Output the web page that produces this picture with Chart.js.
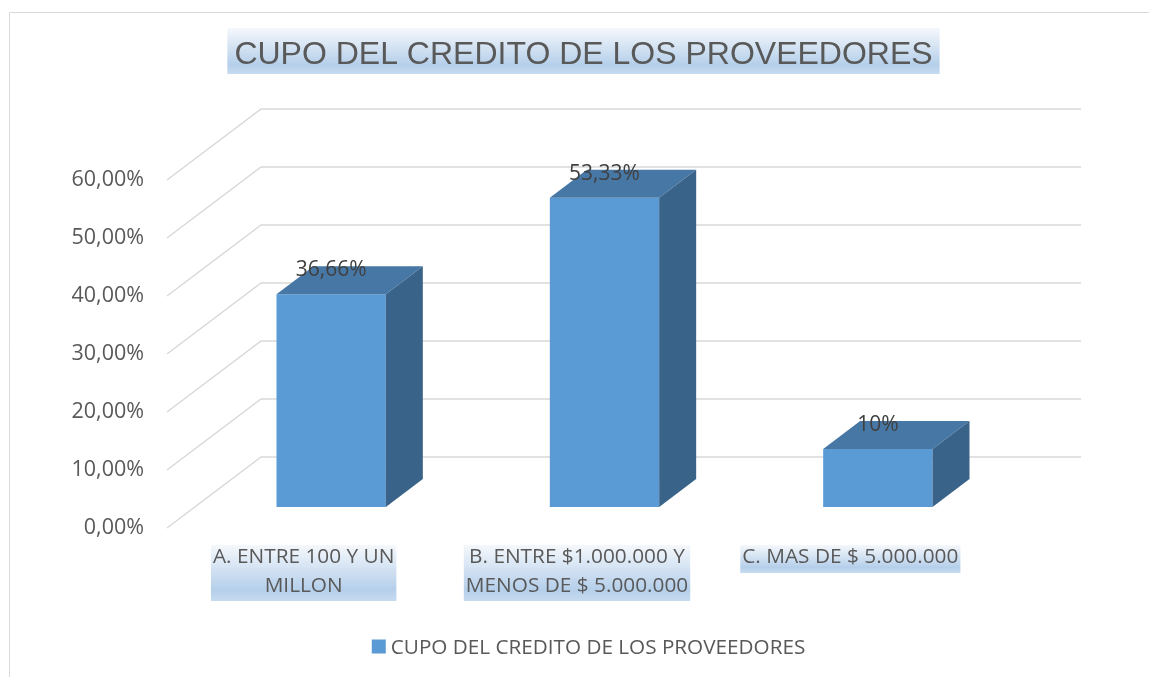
<!DOCTYPE html>
<html><head><meta charset="utf-8">
<script src="https://cdn.jsdelivr.net/npm/chart.js@4.4.1/dist/chart.umd.min.js"></script>
<style>html,body{margin:0;padding:0;background:#fff;} canvas{display:block;}</style>
</head><body>
<canvas id="c" width="1149" height="677"></canvas>
<script>
const chartTitle = "CUPO DEL CREDITO DE LOS PROVEEDORES";
const categories = [["A. ENTRE 100 Y UN", "MILLON"], ["B. ENTRE $1.000.000 Y", "MENOS DE $ 5.000.000"], ["C. MAS DE $ 5.000.000"]];
const seriesName = "CUPO DEL CREDITO DE LOS PROVEEDORES";
const values = [36.66, 53.33, 10];
const yTicks = [0, 10, 20, 30, 40, 50, 60];

const FONT = "'Open Sans', sans-serif";
const BAR_SHIFT = {x: 27.5, y: -21};
const DEPTH = {x: 37, y: -28};
const WALL = {x: 94, y: -71};
const FRONT = '#5b9bd5', TOPC = '#4677a5', SIDE = '#3a6389';

function fmtTick(v) { return v.toFixed(2).replace('.', ',') + '%'; }
function fmtLabel(v) { return Number.isInteger(v) ? v + '%' : v.toFixed(2).replace('.', ',') + '%'; }

function boxGradient(ctx, y0, y1) {
  const g = ctx.createLinearGradient(0, y0, 0, y1);
  g.addColorStop(0, '#f5f8fc');
  g.addColorStop(0.8, '#b5cfea');
  g.addColorStop(1, '#c6dbf0');
  return g;
}

const deco = {
  id: 'deco',
  beforeDraw(chart) {
    const ctx = chart.ctx;
    ctx.save();
    ctx.strokeStyle = '#d9d9d9'; ctx.lineWidth = 1;
    ctx.beginPath(); ctx.moveTo(9.5, 677); ctx.lineTo(9.5, 12.5); ctx.lineTo(1149, 12.5); ctx.stroke();
    // title
    ctx.font = "32px 'Liberation Sans', Arial, sans-serif";
    const tw = ctx.measureText(chartTitle).width;
    const cx = 583.5;
    ctx.fillStyle = boxGradient(ctx, 28, 74);
    ctx.fillRect(cx - tw / 2 - 7, 28, tw + 14, 46);
    ctx.fillStyle = '#595959'; ctx.textAlign = 'center'; ctx.textBaseline = 'alphabetic';
    ctx.fillText(chartTitle, cx, 64);
    // category label boxes
    const xs = chart.scales.x;
    ctx.font = "20.8px " + FONT;
    categories.forEach((lab, i) => {
      const lines = Array.isArray(lab) ? lab : [lab];
      const w = Math.max(...lines.map(l => ctx.measureText(l).width));
      const px = xs.getPixelForTick(i);
      const top = 545, h = 28 * lines.length;
      ctx.fillStyle = boxGradient(ctx, top, top + h);
      ctx.fillRect(px - w / 2 - 2, top, w + 4, h);
    });
    // legend
    ctx.font = "20.7px " + FONT;
    const ds = chart.data.datasets[0];
    const lw = ctx.measureText(ds.label).width;
    const total = 14 + 5 + lw;
    const lx = 588.5 - total / 2;
    ctx.fillStyle = ds.backgroundColor;
    ctx.fillRect(lx, 639.5, 14, 14);
    ctx.fillStyle = '#595959'; ctx.textAlign = 'left'; ctx.textBaseline = 'alphabetic';
    ctx.fillText(ds.label, lx + 19, 654);
    ctx.restore();
  },
  beforeDatasetsDraw(chart) {
    const ctx = chart.ctx, ys = chart.scales.y, a = chart.chartArea;
    ctx.save();
    ctx.strokeStyle = '#d9d9d9'; ctx.lineWidth = 1.5;
    ys.ticks.forEach(t => {
      const y = ys.getPixelForValue(t.value);
      ctx.beginPath();
      ctx.moveTo(a.left, y);
      ctx.lineTo(a.left + WALL.x, y + WALL.y);
      ctx.lineTo(a.right + WALL.x, y + WALL.y);
      ctx.stroke();
    });
    ctx.restore();
    ctx.save();
    ctx.translate(BAR_SHIFT.x, BAR_SHIFT.y);
  },
  afterDatasetsDraw(chart) {
    const ctx = chart.ctx;
    ctx.restore();
    ctx.save();
    const meta = chart.getDatasetMeta(0);
    const data = chart.data.datasets[0].data;
    meta.data.forEach((bar, i) => {
      const p = bar.getProps(['x', 'y', 'base', 'width'], true);
      const x1 = p.x - p.width / 2 + BAR_SHIFT.x, x2 = p.x + p.width / 2 + BAR_SHIFT.x;
      const top = p.y + BAR_SHIFT.y, bot = p.base + BAR_SHIFT.y;
      ctx.fillStyle = TOPC;
      ctx.beginPath();
      ctx.moveTo(x1, top); ctx.lineTo(x2, top);
      ctx.lineTo(x2 + DEPTH.x, top + DEPTH.y); ctx.lineTo(x1 + DEPTH.x, top + DEPTH.y);
      ctx.closePath(); ctx.fill();
      ctx.fillStyle = SIDE;
      ctx.beginPath();
      ctx.moveTo(x2, top); ctx.lineTo(x2 + DEPTH.x, top + DEPTH.y);
      ctx.lineTo(x2 + DEPTH.x, bot + DEPTH.y); ctx.lineTo(x2, bot);
      ctx.closePath(); ctx.fill();
      ctx.font = "21px " + FONT;
      ctx.fillStyle = '#404040'; ctx.textAlign = 'center'; ctx.textBaseline = 'alphabetic';
      ctx.fillText(fmtLabel(data[i]), p.x + BAR_SHIFT.x, top - 18);
    });
    ctx.restore();
  }
};

new Chart(document.getElementById('c'), {
  type: 'bar',
  data: {
    labels: categories,
    datasets: [{
      label: seriesName,
      data: values,
      backgroundColor: FRONT,
      borderWidth: 0,
      categoryPercentage: 1,
      barPercentage: 0.4
    }]
  },
  options: {
    responsive: false,
    animation: false,
    devicePixelRatio: 1,
    events: [],
    layout: { padding: { left: 10, right: 162, top: 180, bottom: 0 } },
    plugins: { legend: { display: false }, title: { display: false }, tooltip: { enabled: false } },
    scales: {
      x: {
        grid: { display: false, drawTicks: false }, border: { display: false },
        ticks: { color: '#595959', padding: 15, maxRotation: 0, autoSkip: false,
                 font: { family: FONT, size: 20.8, lineHeight: '29px' } },
        afterFit: s => { s.height = 149; }
      },
      y: {
        min: 0, max: 60,
        grid: { display: false, drawTicks: false }, border: { display: false },
        afterBuildTicks: s => { s.ticks = yTicks.map(v => ({ value: v })); },
        ticks: { color: '#595959', padding: 23, callback: v => fmtTick(v),
                 font: { family: FONT, size: 21.5 } },
        afterFit: s => { s.width = 157; }
      }
    }
  },
  plugins: [deco]
});
</script>
</body></html>
